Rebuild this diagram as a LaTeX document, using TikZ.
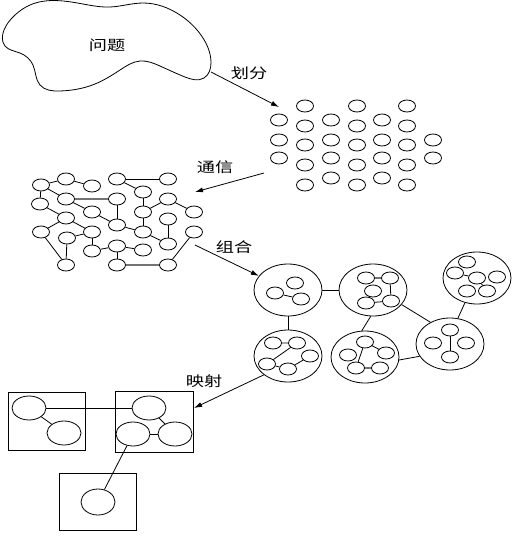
\documentclass[tikz,border=0pt]{standalone}
\usepackage{fontspec}
\newfontfamily\cjk[FakeStretch=1.3]{Noto Sans CJK SC}
\usepackage{tikz}
\usetikzlibrary{hobby}
\usetikzlibrary{shapes}
\usetikzlibrary{arrows.meta}

\begin{document}
\begin{tikzpicture}[x=1pt, y=-1pt, line width=0.8pt,
    dot/.style={draw, ellipse, inner sep=0pt, minimum width=17pt, minimum height=12pt},
    group/.style={draw, ellipse, inner sep=0pt, minimum width=68pt, minimum height=52pt},
    task/.style={draw, ellipse, inner sep=0pt, minimum width=34pt, minimum height=24pt},
    proc/.style={draw, inner sep=0pt, minimum width=77pt, minimum height=58pt},
    lbl/.style={font=\cjk\fontsize{14}{16}\selectfont},
    arr/.style={-{Latex[length=8pt,width=5pt]}},
    heavy/.style={black!55, line width=1.4pt}]
  \useasboundingbox (0,0) rectangle (514,536);

  % problem
  \draw plot[closed hobby] coordinates {(30,5) (83,4) (110,7) (143,3) (180,15) (203,38)
    (211,62) (204,78) (185,77) (160,66) (140,61) (120,70) (95,84) (60,91) (40,85)
    (33,65) (20,53) (5,46) (4,30) (15,15)};
  \node[lbl] (prob) at (107,45) {问题};

  % partition
  \foreach \x/\ys in {279/{120,140,158}, 305/{106,126,145,165,185}, 331/{120,140,158,178},
                      357/{106,126,145,165,185}, 382/{120,140,158,178},
                      407/{106,126,145,165,185}, 433/{140,158}}
    \foreach \y in \ys
      \node[dot] (p-\x-\y) at (\x,\y) {};

  % communication
  \foreach \n/\x/\y in {a/41/185, b/66/179, c/92/186, d/117/179, e/168/179,
                        f/40/204, g/66/199, h/117/199, i/143/192, j/168/199,
                        k/92/212, l/143/212, m/194/212, n/66/218, o/168/219,
                        p/41/232, q/117/225, r/92/232, s/143/232, t/194/232, u/67/238,
                        v/168/244, w/92/251, x/117/246, y/143/250,
                        z/66/265, aa/117/265, ab/168/265}
    \node[dot] (\n) at (\x,\y) {};
  \foreach \s/\t in {a/b, b/c, a/f, a/g, d/e, d/i, g/k, k/q, h/q, i/l, l/j, j/m,
                     l/s, q/s, s/v, o/v, f/n, n/p, n/r, p/z, u/z, u/r, r/w, w/x,
                     x/aa, x/y, ab/t}
    \draw (\s) -- (\t);
  \draw[heavy] (g) -- (h);
  \draw[heavy] (aa) -- (ab);

  % agglomeration
  \node[group] (cl1) at (288,290) {};
  \node[group] (cl2) at (373,290) {};
  \node[group] (cl3) at (477,278) {};
  \node[group] (cl4) at (288,356) {};
  \node[group] (cl5) at (365,357) {};
  \node[group] (cl6) at (450,344) {};
  \draw (cl1) -- (cl2);
  \draw (cl1) -- (cl4);
  \draw (cl2.265) -- (cl5.97);
  \draw (cl2.333) -- (cl6.132);
  \draw (cl3.244) -- (cl6.73);
  \draw (cl5.355) -- (cl6.202);

  \node[dot] (cl1a) at (275,293) {};
  \node[dot] (cl1b) at (295,283) {};
  \node[dot] (cl1c) at (301,299) {};
  \draw (cl1a) -- (cl1c);

  \node[dot] (cl2a) at (366,278) {};
  \node[dot] (cl2b) at (390,278) {};
  \node[dot] (cl2c) at (373,291) {};
  \node[dot] (cl2d) at (366,303) {};
  \node[dot] (cl2e) at (391,301) {};
  \draw[heavy] (cl2a) -- (cl2b);
  \draw (cl2b) -- (cl2e) (cl2d) -- (cl2e);

  \node[dot] (cl3a) at (467,262) {};
  \node[dot] (cl3b) at (455,273) {};
  \node[dot] (cl3c) at (477,278) {};
  \node[dot] (cl3d) at (497,277) {};
  \node[dot] (cl3e) at (467,291) {};
  \node[dot] (cl3f) at (487,291) {};
  \draw (cl3b) -- (cl3c) (cl3c) -- (cl3f);

  \node[dot] (cl4a) at (273,343) {};
  \node[dot] (cl4b) at (297,343) {};
  \node[dot] (cl4c) at (310,356) {};
  \node[dot] (cl4d) at (267,364) {};
  \node[dot] (cl4e) at (288,369) {};
  \draw (cl4a) -- (cl4b) (cl4d) -- (cl4b) (cl4d) -- (cl4e) (cl4e) -- (cl4c);

  \node[dot] (cl5a) at (365,342) {};
  \node[dot] (cl5b) at (348,355) {};
  \node[dot] (cl5c) at (386,353) {};
  \node[dot] (cl5d) at (356,368) {};
  \node[dot] (cl5e) at (380,368) {};
  \draw (cl5a) -- (cl5d) (cl5a) -- (cl5c);
  \draw[heavy] (cl5d) -- (cl5e);

  \node[dot] (cl6a) at (450,330) {};
  \node[dot] (cl6b) at (433,343) {};
  \node[dot] (cl6c) at (466,343) {};
  \node[dot] (cl6d) at (450,357) {};
  \draw (cl6a) -- (cl6d);

  % mapping
  \node[proc] (box1) at (46.5,421) {};
  \node[proc, minimum width=78pt, minimum height=61pt] (box2) at (154,421.5) {};
  \node[proc, minimum height=57pt] (box3) at (97.5,501.5) {};
  \node[task] (m1) at (29,408) {};
  \node[task] (m2) at (64,433) {};
  \node[task] (m3) at (149,408) {};
  \node[task] (m4) at (133,434) {};
  \node[task] (m5) at (175,434) {};
  \node[task, minimum height=26pt] (m6) at (98,502) {};
  \draw (m1) -- (m3);
  \draw (m1) -- (m2);
  \draw (m3) -- (m5);
  \draw (m4) -- (m5);
  \draw (m4) -- (m6);

  % steps
  \coordinate (s1) at (211,72);
  \coordinate (e1) at (279,107);
  \coordinate (s2) at (264,173);
  \coordinate (e2) at (195,192);
  \coordinate (s3) at (195,245);
  \coordinate (e4) at (194,408);
  \draw[arr] (s1) -- (e1);
  \draw[arr] (s2) -- (e2);
  \draw[arr] (s3) -- (cl1);
  \draw[arr] (cl4.218) -- (e4);
  \node[lbl] (split) at (249,73) {划分};
  \node[lbl] (comm) at (215,167) {通信};
  \node[lbl] (agg) at (234,247) {组合};
  \node[lbl] (map) at (204,381) {映射};
\end{tikzpicture}
\end{document}
